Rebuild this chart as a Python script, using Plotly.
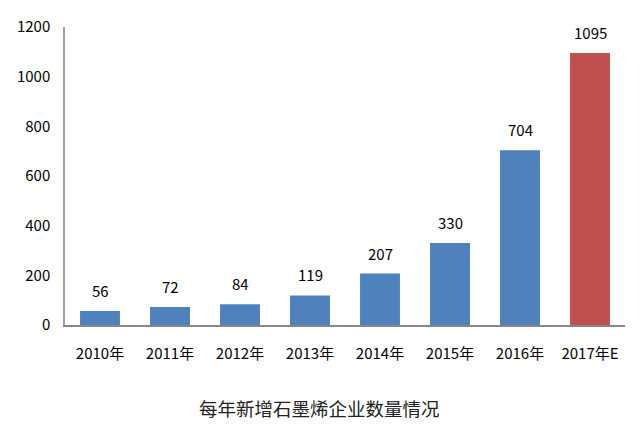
import plotly.graph_objects as go

categories = ["2010年", "2011年", "2012年", "2013年", "2014年", "2015年", "2016年", "2017年E"]
values = [56, 72, 84, 119, 207, 330, 704, 1095]
colors = ["#4F81BD"] * 7 + ["#C0504D"]
title_text = "每年新增石墨烯企业数量情况"

font_family = "Noto Sans CJK SC, Noto Sans, sans-serif"

fig = go.Figure()
fig.add_trace(go.Bar(
    x=categories, y=values, marker=dict(color=colors, line=dict(width=0)),
    hoverinfo="skip"
))

for c, v in zip(categories, values):
    fig.add_annotation(x=c, y=v, text=str(v), showarrow=False, yanchor="bottom",
                       yshift=8, font=dict(size=15, color="#000000", family=font_family))

fig.add_annotation(xref="paper", yref="paper", x=0.454, y=-0.28, text=title_text,
                   showarrow=False, yanchor="middle",
                   font=dict(size=18.5, color="#222222", family=font_family))

fig.update_layout(
    width=640, height=425,
    margin=dict(l=65, r=15, t=27, b=100),
    plot_bgcolor="white", paper_bgcolor="white",
    bargap=0.43,
    showlegend=False,
    font=dict(family=font_family, size=14, color="#000000"),
    xaxis=dict(showline=True, linecolor="#868686", linewidth=2, ticks="",
               tickfont=dict(size=15), showgrid=False, ticklabelstandoff=14),
    yaxis=dict(range=[0, 1200], dtick=200, showline=True, linecolor="#A0A0A0",
               linewidth=1.5, ticks="", showgrid=False, zeroline=False,
               tickfont=dict(size=15), ticklabelstandoff=10),
)

fig.write_html("out.html")
